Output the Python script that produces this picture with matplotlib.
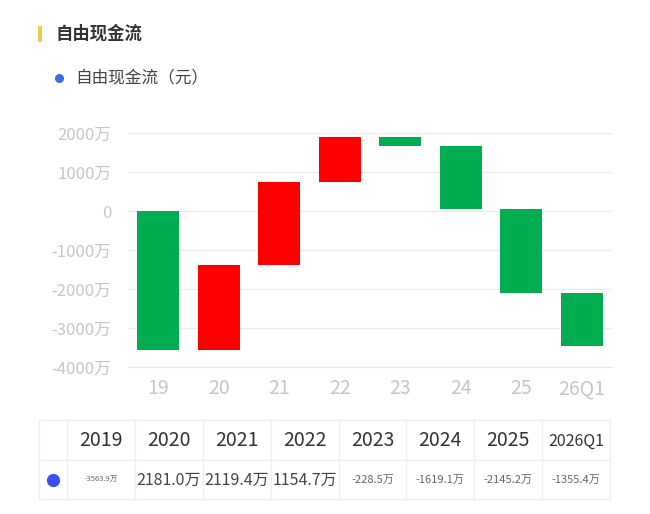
import matplotlib
matplotlib.use("Agg")
import matplotlib.pyplot as plt
from matplotlib.patches import Rectangle
from matplotlib.lines import Line2D

plt.rcParams['font.family'] = ['Noto Sans CJK SC', 'DejaVu Sans']

title = "自由现金流"
legend_label = "自由现金流（元）"
years = ["2019", "2020", "2021", "2022", "2023", "2024", "2025", "2026Q1"]
xlabels = ["19", "20", "21", "22", "23", "24", "25", "26Q1"]
values = [-3563.9, 2181.0, 2119.4, 1154.7, -228.5, -1619.1, -2145.2, -1355.4]  # 万
yticks = [-4000, -3000, -2000, -1000, 0, 1000, 2000]
ytick_labels = ["-4000万", "-3000万", "-2000万", "-1000万", "0", "1000万", "2000万"]
value_font_sizes = [5.5, 11.5, 11.5, 11.5, 8, 8, 8, 8]
header_font_sizes = [14, 14, 14, 14, 14, 14, 14, 11.5]

W, H = 650, 514
fig = plt.figure(figsize=(W / 100, H / 100), dpi=100)
fig.patch.set_facecolor("white")

def fx(px):
    return px / W

def fy(py):
    return 1 - py / H

def dot(px, py, size, color):
    fig.add_artist(Line2D([fx(px)], [fy(py)], marker="o", markersize=size,
                          markerfacecolor=color, markeredgecolor="none",
                          linestyle="none", transform=fig.transFigure))

# Header
fig.patches.append(Rectangle((fx(38), fy(42)), fx(4), 16 / H, transform=fig.transFigure,
                             facecolor="#f2c94c", edgecolor="none"))
fig.text(fx(55), fy(34), title, fontsize=12.5, fontweight="bold", color="#333333",
         va="center", ha="left")
dot(59, 78, 6.5, "#3d6be8")
fig.text(fx(75), fy(78), legend_label, fontsize=12, color="#444444", va="center", ha="left")

# Chart
ax = fig.add_axes([fx(128), fy(367), fx(612) - fx(128), (367 - 133) / H])
ax.set_xlim(-0.5, len(values) - 0.5)
ax.set_ylim(-4000, 2000)
cum = 0.0
for i, v in enumerate(values):
    start = cum
    cum = cum + v
    color = "#ff0000" if v > 0 else "#00ad4f"
    ax.bar(i, cum - start, bottom=start, width=0.69, color=color, edgecolor="none", zorder=3)

ax.set_yticks(yticks)
ax.set_yticklabels(ytick_labels)
ax.set_xticks(range(len(xlabels)))
ax.set_xticklabels(xlabels)
ax.grid(axis="y", color="#ececec", linewidth=1, zorder=0)
for s in ["top", "right", "left"]:
    ax.spines[s].set_visible(False)
ax.spines["bottom"].set_color("#e6e6e6")
ax.tick_params(axis="both", length=0)
ax.tick_params(axis="y", labelsize=12, pad=12)
ax.tick_params(axis="x", labelsize=14, pad=8)
for t in ax.get_yticklabels() + ax.get_xticklabels():
    t.set_color("#c6c6c6")

# Table
line_c = "#efefef"
tl, tr = 39, 610
col0 = 67
ttop, tmid, tbot = 420, 460, 499
colw = (tr - col0) / len(years)
for py in (ttop, tmid, tbot):
    fig.add_artist(Line2D([fx(tl), fx(tr)], [fy(py), fy(py)], color=line_c, lw=1,
                          transform=fig.transFigure))
xs = [tl, col0] + [col0 + colw * (k + 1) for k in range(len(years))]
for px in xs:
    fig.add_artist(Line2D([fx(px), fx(px)], [fy(ttop), fy(tbot)], color=line_c, lw=1,
                          transform=fig.transFigure))
dot(53, 480, 9.5, "#3a50f0")
for k, (yr, v) in enumerate(zip(years, values)):
    cx = col0 + colw * (k + 0.5)
    fig.text(fx(cx), fy(441), yr, fontsize=header_font_sizes[k], color="#333333",
             ha="center", va="center", fontweight="medium")
    fig.text(fx(cx), fy(480), f"{v:.1f}万", fontsize=value_font_sizes[k],
             color="#444444" if value_font_sizes[k] > 10 else "#666666",
             ha="center", va="center")

fig.savefig("out.png", dpi=100, facecolor="white")
